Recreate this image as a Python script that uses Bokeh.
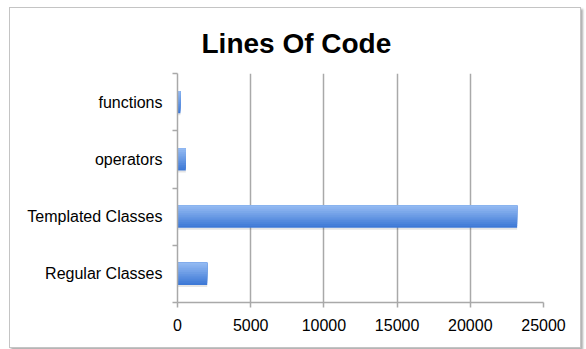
from bokeh.plotting import figure
from bokeh.models import FixedTicker, Range1d
from bokeh.embed import file_html
from bokeh.resources import INLINE

categories = ["Regular Classes", "Templated Classes", "operators", "functions"]
lines_of_code = [2030, 23200, 570, 200]
x_ticks = [0, 5000, 10000, 15000, 20000, 25000]

FONT = "Liberation Sans"
GRID = "#a9a9a9"

p = figure(width=572, height=341, output_backend="svg", toolbar_location=None,
           x_range=Range1d(0, 25000), y_range=Range1d(-0.5, len(categories) - 0.5),
           min_border_left=167, min_border_right=39, min_border_top=65, min_border_bottom=47)
p.margin = (7, 0, 0, 9)
p.styles = {"border": "1px solid #c4c4c4", "box-shadow": "2px 2px 2px #b0b0b0"}

p.title.text = "Lines Of Code"
p.title.text_font = FONT
p.title.text_font_size = "28px"
p.title.text_font_style = "bold"
p.title.text_color = "black"
p.title.align = "left"
p.title.offset = 24
p.title.standoff = 29

p.outline_line_color = None
p.background_fill_color = "white"
p.border_fill_color = "white"

# gradient bars: darkest full bar first, lighter layers covering the top part
ys = list(range(len(categories)))
n = 12
bar_h = 0.39
top_c = (0x96, 0xbc, 0xf3)
bot_c = (0x3a, 0x76, 0xd5)
# soft shadow under bars
p.hbar(y=[y - bar_h / 2 - 0.015 for y in ys], right=lines_of_code, left=0, height=0.04,
       fill_color="#000000", fill_alpha=0.10, line_color=None)
for k in range(n - 1, -1, -1):
    t = (k + 0.5) / n
    c = tuple(int(round(top_c[j] + (bot_c[j] - top_c[j]) * t)) for j in range(3))
    col = "#%02x%02x%02x" % c
    h = bar_h * (k + 1) / n
    yk = [y + bar_h / 2 - h / 2 for y in ys]
    p.hbar(y=yk, right=lines_of_code, left=0, height=h,
           fill_color=col, line_color=None)

# axes
p.xaxis.ticker = FixedTicker(ticks=x_ticks)
p.yaxis.ticker = FixedTicker(ticks=ys, minor_ticks=[y - 0.5 for y in ys] + [len(ys) - 0.5])
p.yaxis.major_label_overrides = {i: c for i, c in enumerate(categories)}
p.yaxis.major_tick_out = 0
p.yaxis.major_tick_in = 0
p.yaxis.minor_tick_out = 5
p.yaxis.minor_tick_in = 0
p.yaxis.major_label_standoff = 10
p.xaxis.major_tick_out = 5
p.xaxis.major_tick_in = 0
p.xaxis.major_label_standoff = 11
for ax in (p.xaxis, p.yaxis):
    ax.axis_line_color = GRID
    ax.axis_line_width = 1.5
    ax.major_tick_line_color = GRID
    ax.major_tick_line_width = 1.5
    ax.minor_tick_line_color = GRID
    ax.minor_tick_line_width = 1.5
    ax.major_label_text_font = FONT
    ax.major_label_text_font_size = "16px"
    ax.major_label_text_color = "black"
p.xaxis.minor_tick_line_color = None

p.xgrid.ticker = FixedTicker(ticks=x_ticks)
p.xgrid.grid_line_color = GRID
p.xgrid.grid_line_width = 1.5
p.ygrid.grid_line_color = None

open("out.html", "w").write(file_html(p, INLINE))
